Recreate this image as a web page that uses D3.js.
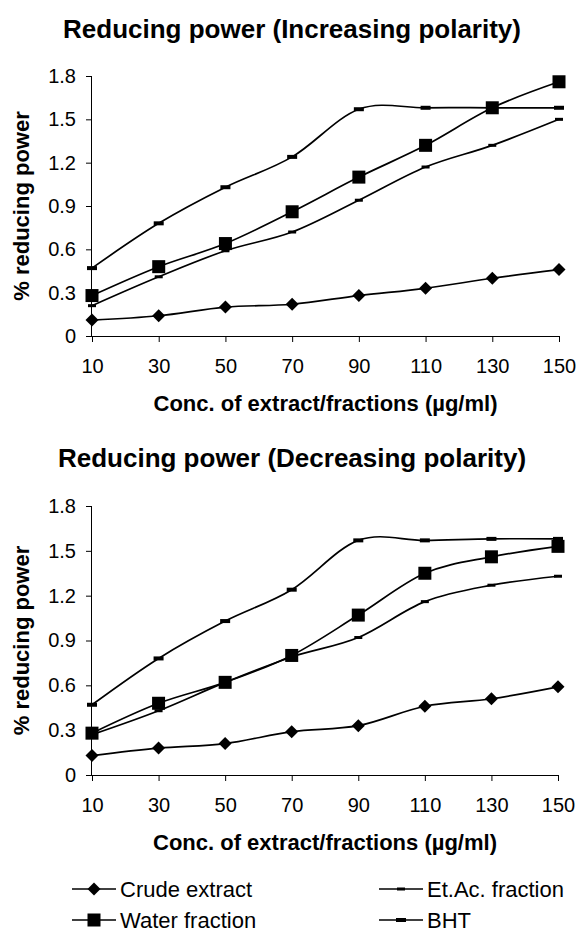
<!DOCTYPE html>
<html>
<head>
<meta charset="utf-8">
<script src="https://cdn.jsdelivr.net/npm/d3@7"></script>
<style>
  html, body { margin: 0; padding: 0; background: #fff; }
  svg { display: block; }
  text { font-family: "Liberation Sans", Arial, sans-serif; fill: #000; }
</style>
</head>
<body>
<svg id="chart" width="577" height="932"></svg>
<script>
// ---- Data ----
const concentrations = [10, 30, 50, 70, 90, 110, 130, 150];
const yTicks = [0, 0.3, 0.6, 0.9, 1.2, 1.5, 1.8];
const seriesNames = ["Crude extract", "Water fraction", "Et.Ac. fraction", "BHT"];

// Increasing polarity
const incCrude = [0.11, 0.14, 0.20, 0.22, 0.28, 0.33, 0.40, 0.46];
const incWater = [0.28, 0.48, 0.64, 0.86, 1.10, 1.32, 1.58, 1.76];
const incEtAc  = [0.21, 0.41, 0.59, 0.72, 0.94, 1.17, 1.32, 1.50];
const incBHT   = [0.47, 0.78, 1.03, 1.24, 1.57, 1.58, 1.58, 1.58];

// Decreasing polarity
const decCrude = [0.13, 0.18, 0.21, 0.29, 0.33, 0.46, 0.51, 0.59];
const decWater = [0.28, 0.48, 0.62, 0.80, 1.07, 1.35, 1.46, 1.53];
const decEtAc  = [0.27, 0.43, 0.62, 0.79, 0.92, 1.16, 1.27, 1.33];
const decBHT   = [0.47, 0.78, 1.03, 1.24, 1.57, 1.57, 1.58, 1.58];

const titles = ["Reducing power (Increasing polarity)", "Reducing power (Decreasing polarity)"];
const yTitle = "% reducing power";
const xTitle = "Conc. of extract/fractions (\u00b5g/ml)";

const svg = d3.select("#chart");

const markerTypes = ["diamond", "square", "dashSmall", "dashBig"];

function drawMarker(g, type, x, y) {
  if (type === "diamond") {
    const r = 6.5;
    g.append("path").attr("d", `M${x},${y - r}L${x + r},${y}L${x},${y + r}L${x - r},${y}Z`).attr("fill", "#000");
  } else if (type === "square") {
    const s = 13;
    g.append("rect").attr("x", x - s / 2).attr("y", y - s / 2).attr("width", s).attr("height", s).attr("fill", "#000");
  } else if (type === "dashSmall") {
    g.append("rect").attr("x", x - 4).attr("y", y - 1.5).attr("width", 8).attr("height", 3).attr("fill", "#000");
  } else {
    g.append("rect").attr("x", x - 5).attr("y", y - 2).attr("width", 10).attr("height", 4).attr("fill", "#000");
  }
}

function drawChart(cfg) {
  const { left, right, top, bottom, series, title, titleY } = cfg;
  const x = d3.scalePoint().domain(concentrations).range([left, right]);
  const y = d3.scaleLinear().domain([0, 1.8]).range([bottom, top]);
  const g = svg.append("g");

  // title
  g.append("text").attr("x", 292).attr("y", titleY).attr("text-anchor", "middle")
    .attr("font-size", 26).attr("font-weight", "bold").text(title);

  // y axis
  const yAxis = d3.axisLeft(y).tickValues(yTicks).tickSize(6).tickPadding(10)
    .tickFormat(d => d === 0 ? "0" : d3.format(".1f")(d));
  const ya = g.append("g").attr("transform", `translate(${left},0)`).call(yAxis);
  ya.select(".domain").attr("d", `M-0.5,${top}V${bottom}`).attr("stroke", "#000");
  ya.selectAll(".tick line").attr("stroke", "#000");
  ya.selectAll(".tick text").attr("font-size", 20).attr("font-family", "Liberation Sans, Arial, sans-serif").attr("fill", "#000");

  // x axis
  const xAxis = d3.axisBottom(x).tickSize(6).tickPadding(17);
  const xa = g.append("g").attr("transform", `translate(0,${bottom})`).call(xAxis);
  xa.select(".domain").attr("d", `M${left},0.5H${right}`).attr("stroke", "#000");
  xa.selectAll(".tick line").attr("stroke", "#000");
  xa.selectAll(".tick text").attr("font-size", 20).attr("font-family", "Liberation Sans, Arial, sans-serif").attr("fill", "#000");

  // axis titles
  g.append("text").attr("transform", `translate(29,${(top + bottom) / 2}) rotate(-90)`)
    .attr("text-anchor", "middle").attr("font-size", 22).attr("font-weight", "bold").text(yTitle);
  g.append("text").attr("x", (left + right) / 2).attr("y", bottom + 75).attr("text-anchor", "middle")
    .attr("font-size", 22).attr("font-weight", "bold").text(xTitle);

  const line = d3.line().x((d, i) => x(concentrations[i])).y(d => y(d)).curve(d3.curveCardinal.tension(0));

  series.forEach((vals) => {
    g.append("path").attr("d", line(vals)).attr("fill", "none").attr("stroke", "#000").attr("stroke-width", 1.7);
  });
  series.forEach((vals, si) => {
    const mg = g.append("g");
    vals.forEach((v, i) => drawMarker(mg, markerTypes[si], x(concentrations[i]), y(v)));
  });
}

drawChart({ left: 92, right: 559, top: 76, bottom: 336, titleY: 38,
  series: [incCrude, incWater, incEtAc, incBHT], title: titles[0] });
drawChart({ left: 92, right: 558, top: 506, bottom: 775, titleY: 467,
  series: [decCrude, decWater, decEtAc, decBHT], title: titles[1] });

// legend
const legendPos = [[72, 889], [72, 920], [379, 889], [379, 920]];
const lg = svg.append("g");
seriesNames.forEach((name, i) => {
  const [lx, ly] = legendPos[i];
  lg.append("line").attr("x1", lx).attr("x2", lx + 44).attr("y1", ly).attr("y2", ly)
    .attr("stroke", "#000").attr("stroke-width", 1.7);
  drawMarker(lg, markerTypes[i], lx + 22, ly);
  lg.append("text").attr("x", lx + 48).attr("y", ly + 8).attr("font-size", 22).text(name);
});
</script>
</body>
</html>
